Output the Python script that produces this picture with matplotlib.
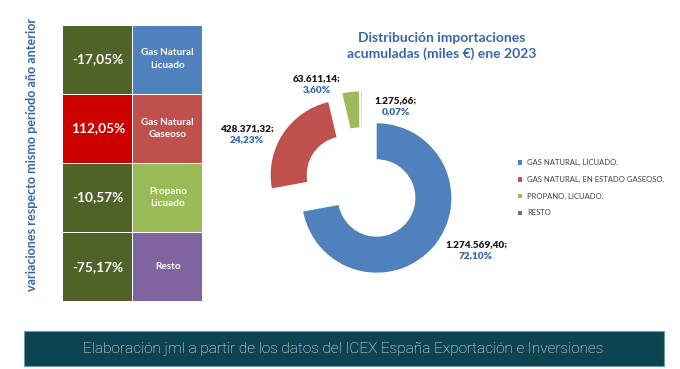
import matplotlib.pyplot as plt
from matplotlib.patches import Rectangle

# datos
productos = ['GAS NATURAL, LICUADO.', 'GAS NATURAL, EN ESTADO GASEOSO.',
             'PROPANO, LICUADO.', 'RESTO']
valores = [1274569.40, 428371.32, 63611.14, 1275.66]
etiquetas_tabla = ['Gas Natural\nLicuado', 'Gas Natural\nGaseoso', 'Propano\nLicuado', 'Resto']
variaciones = [-17.05, 112.05, -10.57, -75.17]

colores = ['#4F81BD', '#C0504D', '#9BBB59', '#8064A2']
azul_txt = '#3566AE'
W, H = 680, 369


def es_num(v, dec=2):
    s = f"{v:,.{dec}f}"
    return s.replace(',', 'X').replace('.', ',').replace('X', '.')


plt.rcParams['font.family'] = ['Lato', 'DejaVu Sans']
fig = plt.figure(figsize=(6.8, 3.69), dpi=100)
ax = fig.add_axes([0, 0, 1, 1])

# donut (coordenadas en pixeles, y hacia arriba)
cx, cy = 361.7, H - 185.5
r = 74.7
wedges, _ = ax.pie(valores, colors=colores, startangle=90, counterclock=False,
                   center=(cx, cy), radius=r, explode=[19.5] * 4,
                   wedgeprops=dict(width=36, edgecolor='none'), frame=True)
ax.set_xlim(0, W)
ax.set_ylim(0, H)
ax.axis('off')

total = sum(valores)
# posiciones de las etiquetas (pixeles)
pos_etq = [(476, 250), (247, 134), (317, 84), (396, 106)]
for v, (px, py) in zip(valores, pos_etq):
    ax.text(px, H - py + 1, es_num(v) + ';', ha='center', va='bottom',
            fontsize=7.2, fontweight='heavy', color='#1a1a1a')
    ax.text(px, H - py - 1, es_num(100 * v / total) + '%', ha='center', va='top',
            fontsize=7.2, fontweight='heavy', color=azul_txt)

ax.text(442, H - 46, 'Distribución importaciones\nacumuladas (miles €) ene 2023',
        ha='center', va='center', fontsize=10, fontweight='bold', color=azul_txt,
        linespacing=1.35)

# leyenda
for i, (p, c) in enumerate(zip(productos, colores)):
    yy = H - (162.7 + i * 16.7)
    ax.add_patch(Rectangle((517.5, yy - 2.3), 4.6, 4.6, color=c, lw=0))
    ax.text(527, yy, p, ha='left', va='center', fontsize=5.5, color='#404040')

# tabla de variaciones
x0, x1, cw = 63.3, 133.3, 69
top, rh = 25, 69.2
for i, (var, etq, c) in enumerate(zip(variaciones, etiquetas_tabla, colores)):
    yb = H - (top + (i + 1) * rh) + 0.5
    fc = '#CC0000' if var > 0 else '#4F6228'
    ax.add_patch(Rectangle((x0, yb), cw, rh - 1, color=fc, lw=0))
    ax.add_patch(Rectangle((x1, yb), cw, rh - 1, color=c, lw=0))
    ax.text(x0 + cw / 2, yb + rh / 2, es_num(var) + '%', ha='center', va='center',
            fontsize=9.8, fontweight='bold', color='white')
    ax.text(x1 + cw / 2, yb + rh / 2, etq, ha='center', va='center',
            fontsize=7.2, fontweight='bold', color='white', linespacing=1.5)

ax.text(32, H - 154, 'variaciones respecto mismo período año anterior', rotation=90,
        ha='center', va='center', fontsize=9.1, fontweight='bold', color=azul_txt)

# pie de pagina
ax.add_patch(Rectangle((24, H - 366), 639.5, 35, facecolor='#0D4452',
                       edgecolor='#6E9AA4', lw=0.8))
ax.text(343.5, H - 348.5,
        'Elaboración jml a partir de los datos del ICEX España Exportación e Inversiones',
        ha='center', va='center', fontsize=11.1, color='white',
        family=['Roboto', 'DejaVu Sans'], fontweight='light')

fig.savefig('out.png', dpi=100)
